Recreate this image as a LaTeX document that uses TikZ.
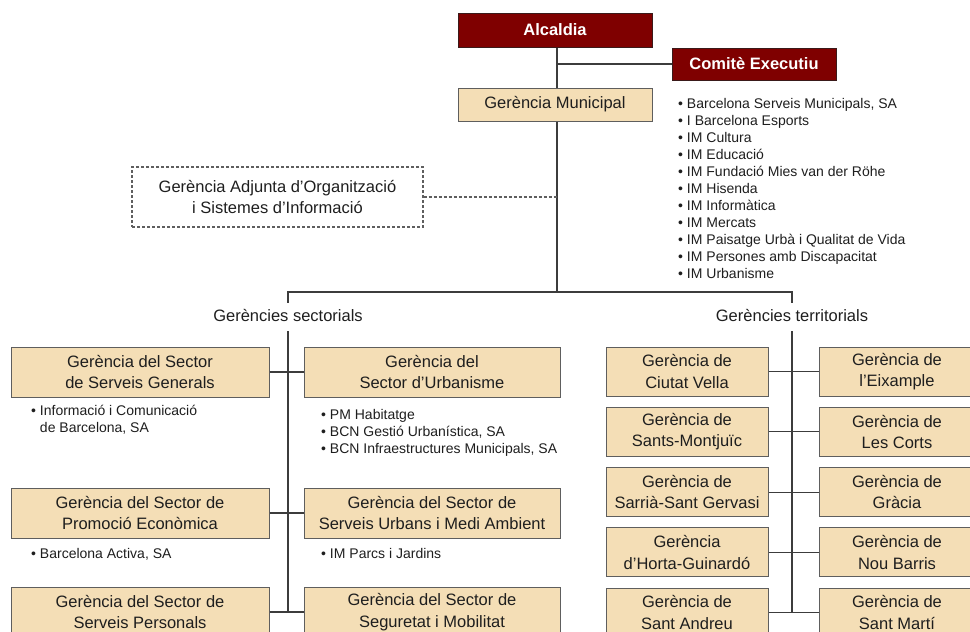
\documentclass[tikz,border=0pt]{standalone}
\usepackage{fontspec}
\setmainfont{Liberation Sans}
\definecolor{redfill}{HTML}{7F0000}
\definecolor{redline}{HTML}{3A1A1A}
\definecolor{tanfill}{HTML}{F4DEB6}
\definecolor{boxline}{HTML}{5E5E5E}
\definecolor{wirecol}{HTML}{3C3C3C}
\definecolor{ink}{HTML}{1E1E1E}
\tikzset{
  redbox/.style={draw=redline, fill=redfill, text=white, line width=1pt,
    font=\bfseries\fontsize{16.5}{20}\selectfont, inner sep=0pt},
  tanbox/.style={draw=boxline, fill=tanfill, text=ink, line width=1pt, align=center,
    font=\fontsize{16.5}{21.5}\selectfont, inner sep=0pt},
  dashbox/.style={draw=boxline, dash pattern=on 3pt off 2pt, line width=1.1pt, text=ink,
    align=center, font=\fontsize{16.5}{21.5}\selectfont, inner sep=0pt},
  sectL/.style={tanbox, minimum width=258pt, minimum height=50pt},
  sectR/.style={tanbox, minimum width=256pt, minimum height=50pt},
  terL/.style={tanbox, minimum width=162pt, minimum height=49pt},
  terR/.style={tanbox, minimum width=156pt, minimum height=49pt},
  grouplbl/.style={text=ink, font=\fontsize{16.5}{20}\selectfont, inner xsep=0pt,
    inner ysep=6.5pt, text height=12pt, text depth=3.5pt},
  listtxt/.style={text=ink, font=\fontsize{14}{17}\selectfont, inner sep=0pt, anchor=base west},
  wire/.style={draw=wirecol, line width=1.2pt},
  dashwire/.style={draw=boxline, line width=1.1pt, dash pattern=on 3pt off 2pt}
}
\begin{document}
\begin{tikzpicture}[x=1pt,y=-1pt]
\useasboundingbox (0,0) rectangle (970,632);
\clip (0,0) rectangle (970,632);

% trunk position
\coordinate (bus) at (557,292);

% top of the organisation
\node[redbox, minimum width=194pt, minimum height=34pt] (alc) at (555,30) {Alcaldia};
\node[redbox, minimum width=164pt, minimum height=32pt] (com) at (754,64) {Comitè Executiu};
\node[tanbox, minimum width=194pt, minimum height=33pt] (gm) at (555,104.5) {Gerència Municipal};
\node[dashbox, minimum width=291pt, minimum height=60pt] (adj) at (277.5,197)
  {Gerència Adjunta d’Organització\\i Sistemes d’Informació};

% municipal bodies attached to the Gerència Municipal
\foreach \t [count=\i from 0] in {{Barcelona Serveis Municipals, SA}, I Barcelona Esports,
    IM Cultura, IM Educació, IM Fundació Mies van der Röhe, IM Hisenda, IM Informàtica,
    IM Mercats, IM Paisatge Urbà i Qualitat de Vida, IM Persones amb Discapacitat, IM Urbanisme}
  \node[listtxt] (ens\i) at (678,108+17*\i) {• \t};

% group labels
\node[grouplbl] (gs) at (288,317) {Gerències sectorials};
\node[grouplbl] (gt) at (792,317) {Gerències territorials};

\draw[wire] (alc.south -| bus) -- (gm.north -| bus);
\draw[wire] (gm.south -| bus) -- (bus);
\draw[wire] (com.west) -- (com.west -| bus);
\draw[dashwire] (adj.east) -- (adj.east -| bus);
\draw[wire] (gs.north) -- (gs.north |- bus) -- (gt.north |- bus) -- (gt.north);

% sectoral management
\node[sectL] (sg) at (140,372) {Gerència del Sector\\de Serveis Generals};
\node[sectR] (su) at (432,372) {Gerència del\\Sector d’Urbanisme};
\node[sectL] (pe) at (140,513) {Gerència del Sector de\\Promoció Econòmica};
\node[sectR] (ma) at (432,513) {Gerència del Sector de\\Serveis Urbans i Medi Ambient};
\node[sectL] (sp) at (140,612) {Gerència del Sector de\\Serveis Personals};
\node[sectR] (sm) at (432,612) {Gerència del Sector de\\Seguretat i Mobilitat};

\draw[wire] (gs.south) -- (gs.south |- sp.east);
\draw[wire] (sg.east) -- (su.west);
\draw[wire] (pe.east) -- (ma.west);
\draw[wire] (sp.east) -- (sm.west);

\node[listtxt] (sg1) at (31,415) {• Informació i Comunicació};
\node[listtxt] (sg2) at (31,432) {\phantom{• }de Barcelona, SA};
\node[listtxt] (su1) at (321,419) {• PM Habitatge};
\node[listtxt] (su2) at (321,436) {• BCN Gestió Urbanística, SA};
\node[listtxt] (su3) at (321,453) {• BCN Infraestructures Municipals, SA};
\node[listtxt] (pe1) at (31,558) {• Barcelona Activa, SA};
\node[listtxt] (ma1) at (321,558) {• IM Parcs i Jardins};

% district management
\node[terL] (t1l) at (687,371.5) {Gerència de\\Ciutat Vella};
\node[terR] (t1r) at (897,371.5) {Gerència de\\l’Eixample};
\node[terL] (t2l) at (687,431.8) {Gerència de\\Sants-Montjuïc};
\node[terR] (t2r) at (897,431.8) {Gerència de\\Les Corts};
\node[terL] (t3l) at (687,492.1) {Gerència de\\Sarrià-Sant Gervasi};
\node[terR] (t3r) at (897,492.1) {Gerència de\\Gràcia};
\node[terL] (t4l) at (687,552.4) {Gerència\\d’Horta-Guinardó};
\node[terR] (t4r) at (897,552.4) {Gerència de\\Nou Barris};
\node[terL] (t5l) at (687,612.7) {Gerència de\\Sant Andreu};
\node[terR] (t5r) at (897,612.7) {Gerència de\\Sant Martí};

\draw[wire] (gt.south) -- (gt.south |- t5l.east);
\foreach \r in {1,...,5}
  \draw[wire] (t\r l.east) -- (t\r r.west);
\end{tikzpicture}
\end{document}
